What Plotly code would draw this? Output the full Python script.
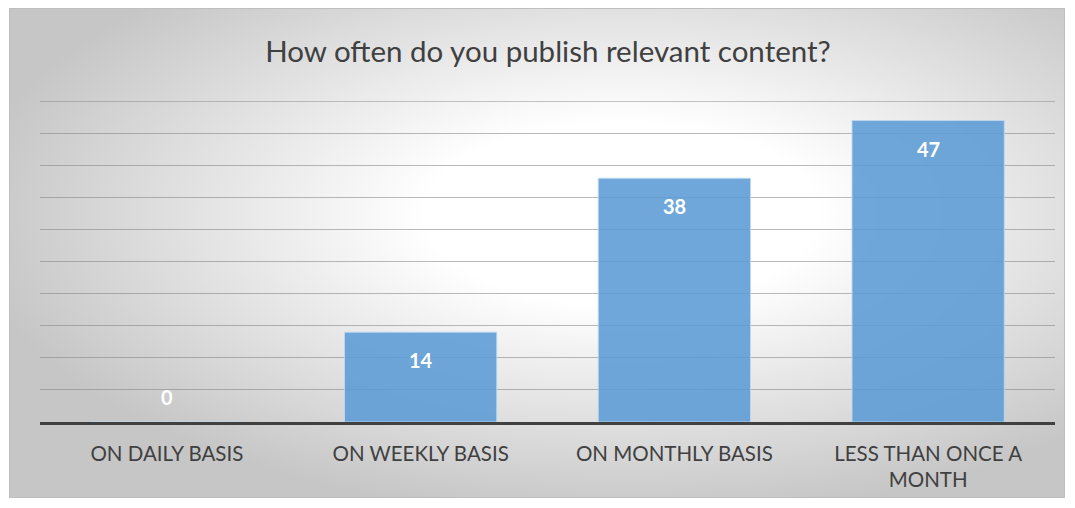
import base64
import plotly.graph_objects as go

categories = ["ON DAILY BASIS", "ON WEEKLY BASIS", "ON MONTHLY BASIS", "LESS THAN ONCE A<br>MONTH"]
values = [0, 14, 38, 47]
title_text = "How often do you publish relevant content?"
y_max = 50

# page has an 8px body margin; figure coordinates are page coordinates minus 8
OFF = 8
W, H = 1075 - OFF, 508 - OFF
L, R, T, B = 40 - OFF, W - (1055 - OFF), 101 - OFF, H - (422 - OFF)
pw, ph = W - L - R, H - T - B

svg = ('<svg xmlns="http://www.w3.org/2000/svg" width="1000" height="500" viewBox="0 0 1000 500" '
       'preserveAspectRatio="none"><defs><radialGradient id="g" cx="0.58" cy="0.42" r="0.62">'
       '<stop offset="0" stop-color="#ffffff"/><stop offset="0.3" stop-color="#ffffff"/>'
       '<stop offset="1" stop-color="#c6c6c6"/></radialGradient></defs>'
       '<rect width="1000" height="500" fill="url(#g)"/></svg>')
src = "data:image/svg+xml;base64," + base64.b64encode(svg.encode()).decode()

def px_x(x):
    return (x - OFF - L) / pw

def px_y(y):
    return (H - B - (y - OFF)) / ph

FONT = "Lato, Open Sans, sans-serif"
GRID = "rgba(130,130,130,0.55)"

fig = go.Figure()
fig.add_trace(go.Bar(
    x=categories, y=values, width=0.6,
    marker=dict(color="rgba(91,155,213,0.88)", line=dict(color="rgba(189,215,238,0.9)", width=1)),
    hoverinfo="skip",
))

for c, v in zip(categories, values):
    fig.add_annotation(x=c, y=v, text=f"<b>{v}</b>", showarrow=False,
                       yshift=-28 if v > 0 else 25,
                       font=dict(family=FONT, size=20, color="white"))

fig.add_layout_image(dict(source=src, xref="paper", yref="paper",
                          x=px_x(9), y=px_y(8), sizex=px_x(1065) - px_x(9), sizey=px_y(8) - px_y(498),
                          xanchor="left", yanchor="top", sizing="stretch", layer="below"))
fig.add_shape(type="rect", xref="paper", yref="paper",
              x0=px_x(9.5), x1=px_x(1064.5), y0=px_y(497.5), y1=px_y(8.5),
              line=dict(color="#bfbfbf", width=1), fillcolor="rgba(0,0,0,0)", layer="above")
# top gridline at the range edge
fig.add_shape(type="line", xref="paper", yref="y", x0=0, x1=1, y0=y_max, y1=y_max,
              line=dict(color=GRID, width=1), layer="below")

fig.update_layout(
    width=W, height=H,
    margin=dict(l=L, r=R, t=T, b=B),
    paper_bgcolor="white", plot_bgcolor="rgba(0,0,0,0)",
    title=dict(text=title_text, x=px_x(548), xanchor="center", xref="paper",
               y=1 - (52 - OFF) / H, yanchor="middle",
               font=dict(family=FONT, size=29.5, color="#404040")),
    showlegend=False,
    xaxis=dict(showgrid=False, showline=True, linecolor="#404040", linewidth=3,
               ticks="", ticklabelstandoff=11,
               tickfont=dict(family=FONT, size=20.5, color="#404040"),
               fixedrange=True),
    yaxis=dict(range=[0, y_max + 0.05], dtick=5, showgrid=True, gridcolor=GRID, gridwidth=1,
               showticklabels=False, zeroline=False, showline=False, ticks="", fixedrange=True),
)

fig.write_html("out.html")
